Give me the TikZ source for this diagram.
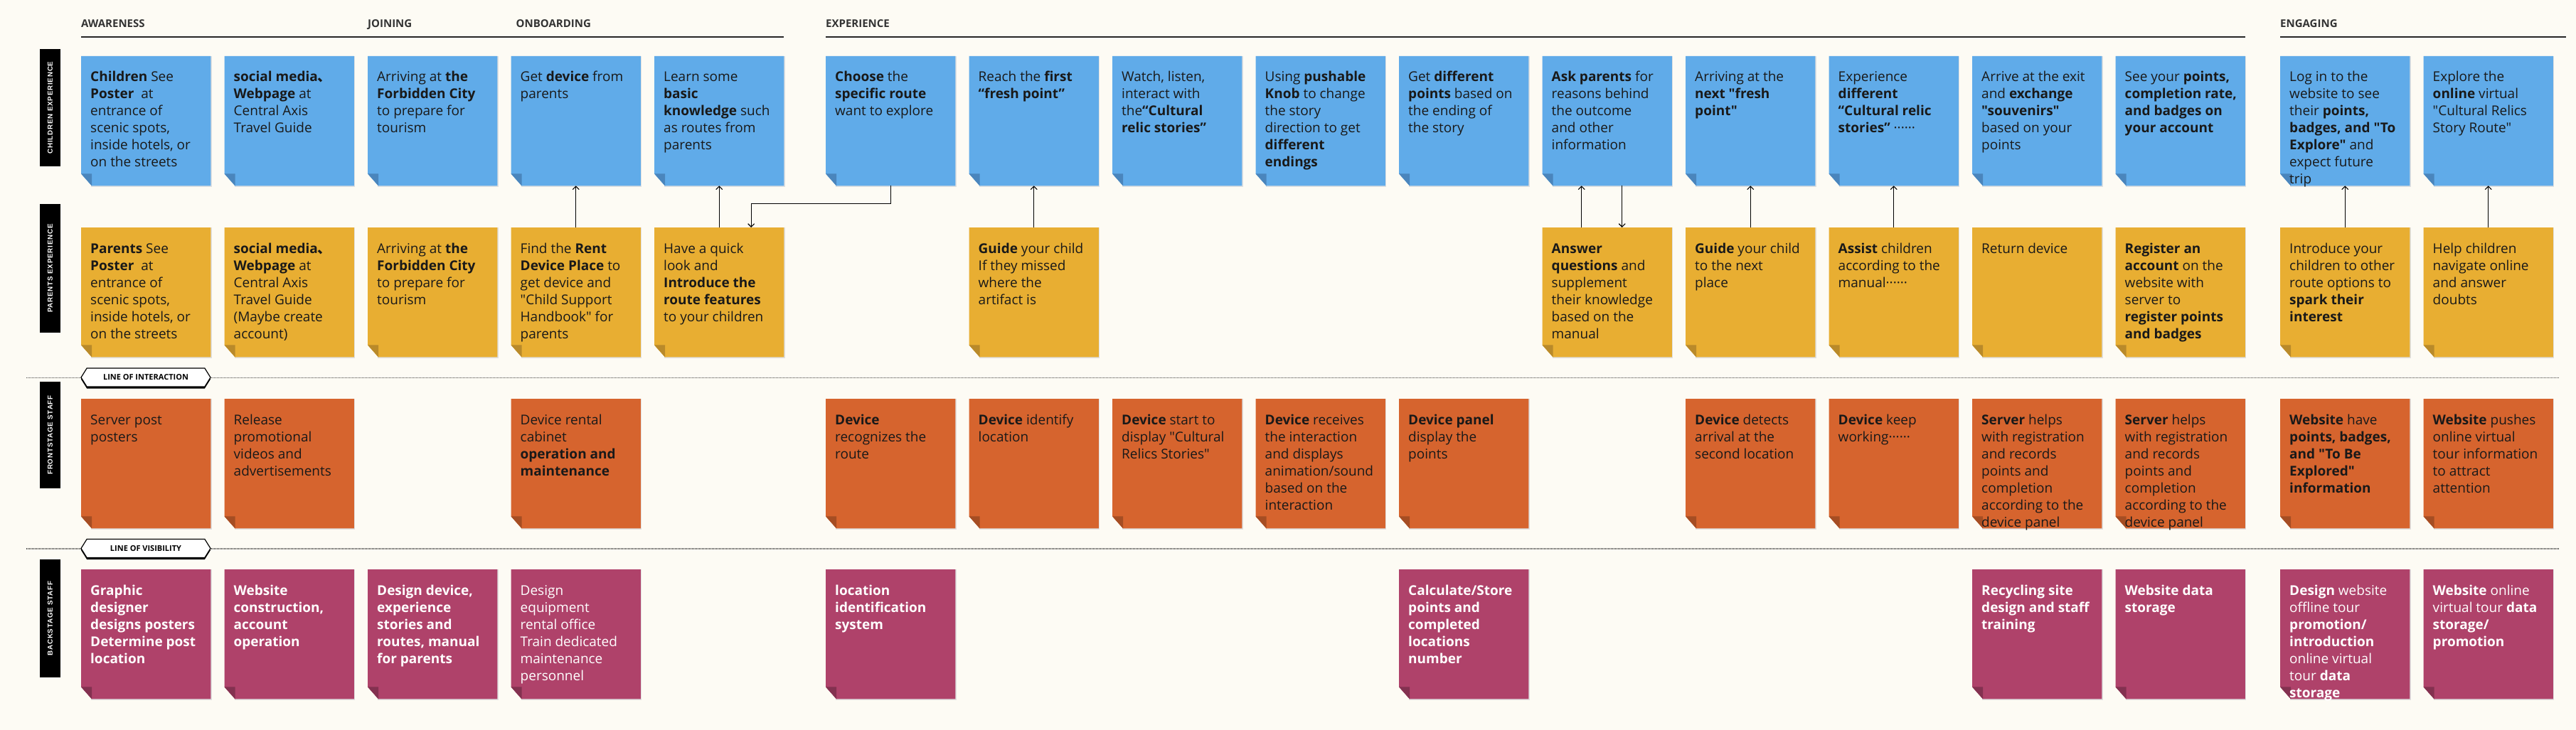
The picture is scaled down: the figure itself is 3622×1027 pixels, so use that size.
\documentclass[tikz,border=0pt]{standalone}
\usepackage{fontspec}
\setmainfont{Open Sans}[Ligatures=TeXOff]
\newfontfamily\cjk{Noto Sans CJK SC}
\newfontfamily\lanefont[LetterSpace=8]{Liberation Sans}
\usetikzlibrary{arrows.meta,shapes.symbols,shadows}

\definecolor{paper}{HTML}{FDFBF4}
\definecolor{kidblue}{HTML}{60ABE9}
\definecolor{kidfold}{HTML}{4A85BC}
\definecolor{parentgold}{HTML}{E8AE32}
\definecolor{parentfold}{HTML}{B98A2A}
\definecolor{frontorange}{HTML}{D6642E}
\definecolor{frontfold}{HTML}{A54D23}
\definecolor{backberry}{HTML}{AF426A}
\definecolor{backfold}{HTML}{833150}

\def\colsep{201.5}
\def\notesize{182pt}

\begin{document}
\begin{tikzpicture}[x=1pt,y=-1pt]
        \tikzstyle{note}=[rectangle,minimum width=\notesize,minimum height=\notesize,inner sep=0pt,anchor=north west]
        \tikzstyle{note text}=[anchor=base west,inner sep=0pt,font=\fontsize{19}{24}\selectfont,text=black!90]
        \tikzstyle{note shadow}=[fill=black!12]
        \tikzstyle{phase}=[anchor=base west,inner sep=0pt,font=\fontsize{15}{18}\selectfont\bfseries,text=black!80]
        \tikzstyle{phase rule}=[line width=2.2pt,black!85]
        \tikzstyle{lane}=[fill=black,text=white,rotate=90,minimum height=29pt,inner sep=0pt,font=\lanefont\fontsize{9.8}{10}\selectfont\bfseries]
        \tikzstyle{divider}=[line width=1.6pt,black!75,dash pattern=on 1pt off 1pt]
        \tikzstyle{gate}=[shape=signal,signal to=east and west,signal pointer angle=116,fill=white,draw=black,line width=1.2pt,minimum width=182pt,minimum height=26pt,inner sep=2pt,font=\fontsize{11}{12}\selectfont\bfseries,drop shadow={shadow xshift=0pt,shadow yshift=-2.5pt,fill=black,opacity=1}]
        \tikzstyle{flow}=[-{Straight Barb[length=4.5pt,width=9pt]},line width=1.1pt,black]

        % Paper and page size
        \fill[paper] (0,0) rectangle (3622,1027);
        \useasboundingbox (0,0) rectangle (3622,1027);

        % Column and row anchors
        \foreach \i in {1,...,5}
        \coordinate (col-\i) at ({114+(\i-1)*\colsep},0);
        \foreach \i in {6,...,15}
        \coordinate (col-\i) at ({1161+(\i-6)*\colsep},0);
        \foreach \i in {16,17}
        \coordinate (col-\i) at ({3206+(\i-16)*\colsep},0);
        \coordinate (row-1) at (0,79);
        \coordinate (row-2) at (0,320);
        \coordinate (row-3) at (0,561);
        \coordinate (row-4) at (0,801);
        \coordinate (hdr) at (0,39);
        \coordinate (rule) at (0,52);

        % Lines of interaction and visibility
        \coordinate (ia-l) at (37,531.5);
        \coordinate (ia-r) at (3598,531.5);
        \coordinate (vi-l) at (37,772);
        \coordinate (vi-r) at (3598,772);
        \draw[divider] (ia-l) -- (ia-r);
        \draw[divider] (vi-l) -- (vi-r);
        \node[gate] (ia) at (205,531) {LINE OF INTERACTION};
        \node[gate] (vi) at (205,771.5) {LINE OF VISIBILITY};

        % Swimlane labels
        \node[lane,minimum width=165pt] (lane-kid) at (70.5,151.5) {CHILDREN EXPERIENCE};
        \node[lane,minimum width=181pt] (lane-par) at (70.5,377.5) {PARENTS EXPERIENCE};
        \node[lane,minimum width=150pt] (lane-front) at (70.5,612) {FRONTSTAGE STAFF};
        \node[lane,minimum width=166pt] (lane-back) at (70.5,870) {BACKSTAGE STAFF};

        % Children experience
        \foreach \cn/\txt in {%
            1/{\textbf{Children} See\\\textbf{Poster}\ \ at\\entrance of\\scenic spots,\\inside hotels, or\\on the streets},%
            2/{\textbf{social media{\cjk 、}}\\\textbf{Webpage} at\\Central Axis\\Travel Guide},%
            3/{Arriving at \textbf{the}\\\textbf{Forbidden City}\\to prepare for\\tourism},%
            4/{Get \textbf{device} from\\parents},%
            5/{Learn some\\\textbf{basic}\\\textbf{knowledge} such\\as routes from\\parents},%
            6/{\textbf{Choose} the\\\textbf{specific route}\\want to explore},%
            7/{Reach the \textbf{first}\\\textbf{“fresh point”}},%
            8/{Watch, listen,\\interact with\\the\textbf{“Cultural}\\\textbf{relic stories”}},%
            9/{Using \textbf{pushable}\\\textbf{Knob} to change\\the story\\direction to get\\\textbf{different}\\\textbf{endings}},%
            10/{Get \textbf{different}\\\textbf{points} based on\\the ending of\\the story},%
            11/{\textbf{Ask parents} for\\reasons behind\\the outcome\\and other\\information},%
            12/{Arriving at the\\\textbf{next "fresh}\\\textbf{point"}},%
            13/{Experience\\\textbf{different}\\\textbf{“Cultural relic}\\\textbf{stories”} ······},%
            14/{Arrive at the exit\\and \textbf{exchange}\\\textbf{"souvenirs"}\\based on your\\points},%
            15/{See your \textbf{points,}\\\textbf{completion rate,}\\\textbf{and badges on}\\\textbf{your account}},%
            16/{Log in to the\\website to see\\their \textbf{points,}\\\textbf{badges, and "To}\\\textbf{Explore"} and\\expect future\\trip},%
            17/{Explore the\\\textbf{online} virtual\\"Cultural Relics\\Story Route"}}
        {
            \node[note] (C-\cn) at (col-\cn |- row-1) {};
            \fill[note shadow] ([xshift=14pt]C-\cn.north west) rectangle ([xshift=1.5pt,yshift=-2pt]C-\cn.south east);
            \fill[kidblue] (C-\cn.north west) -- (C-\cn.north east) -- (C-\cn.south east) -- ([xshift=15pt]C-\cn.south west) -- ([yshift=17pt]C-\cn.south west) -- cycle;
            \fill[kidfold] ([yshift=17pt]C-\cn.south west) -- ([xshift=15pt,yshift=17pt]C-\cn.south west) -- ([xshift=15pt]C-\cn.south west) -- cycle;
            \node[note text] at ([shift={(13,36)}]C-\cn.north west) {\parbox[t]{200pt}{\raggedright\txt}};
        }

        % Parents experience
        \foreach \cn/\txt in {%
            1/{\textbf{Parents} See\\\textbf{Poster}\ \ at\\entrance of\\scenic spots,\\inside hotels, or\\on the streets},%
            2/{\textbf{social media{\cjk 、}}\\\textbf{Webpage} at\\Central Axis\\Travel Guide\\(Maybe create\\account)},%
            3/{Arriving at \textbf{the}\\\textbf{Forbidden City}\\to prepare for\\tourism},%
            4/{Find the \textbf{Rent}\\\textbf{Device Place} to\\get device and\\"Child Support\\Handbook" for\\parents},%
            5/{Have a quick\\look and\\\textbf{Introduce the}\\\textbf{route features}\\to your children},%
            7/{\textbf{Guide} your child\\If they missed\\where the\\artifact is},%
            11/{\textbf{Answer}\\\textbf{questions} and\\supplement\\their knowledge\\based on the\\manual},%
            12/{\textbf{Guide} your child\\to the next\\place},%
            13/{\textbf{Assist} children\\according to the\\manual······},%
            14/{Return device},%
            15/{\textbf{Register an}\\\textbf{account} on the\\website with\\server to\\\textbf{register points}\\\textbf{and badges}},%
            16/{Introduce your\\children to other\\route options to\\\textbf{spark their}\\\textbf{interest}},%
            17/{Help children\\navigate online\\and answer\\doubts}}
        {
            \node[note] (P-\cn) at (col-\cn |- row-2) {};
            \fill[note shadow] ([xshift=14pt]P-\cn.north west) rectangle ([xshift=1.5pt,yshift=-2pt]P-\cn.south east);
            \fill[parentgold] (P-\cn.north west) -- (P-\cn.north east) -- (P-\cn.south east) -- ([xshift=15pt]P-\cn.south west) -- ([yshift=17pt]P-\cn.south west) -- cycle;
            \fill[parentfold] ([yshift=17pt]P-\cn.south west) -- ([xshift=15pt,yshift=17pt]P-\cn.south west) -- ([xshift=15pt]P-\cn.south west) -- cycle;
            \node[note text] at ([shift={(13,36)}]P-\cn.north west) {\parbox[t]{200pt}{\raggedright\txt}};
        }

        % Frontstage staff
        \foreach \cn/\txt in {%
            1/{Server post\\posters},%
            2/{Release\\promotional\\videos and\\advertisements},%
            4/{Device rental\\cabinet\\\textbf{operation and}\\\textbf{maintenance}},%
            6/{\textbf{Device}\\recognizes the\\route},%
            7/{\textbf{Device} identify\\location},%
            8/{\textbf{Device} start to\\display "Cultural\\Relics Stories"},%
            9/{\textbf{Device} receives\\the interaction\\and displays\\animation/sound\\based on the\\interaction},%
            10/{\textbf{Device panel}\\display the\\points},%
            12/{\textbf{Device} detects\\arrival at the\\second location},%
            13/{\textbf{Device} keep\\working······},%
            14/{\textbf{Server} helps\\with registration\\and records\\points and\\completion\\according to the\\device panel},%
            15/{\textbf{Server} helps\\with registration\\and records\\points and\\completion\\according to the\\device panel},%
            16/{\textbf{Website} have\\\textbf{points, badges,}\\\textbf{and "To Be}\\\textbf{Explored"}\\\textbf{information}},%
            17/{\textbf{Website} pushes\\online virtual\\tour information\\to attract\\attention}}
        {
            \node[note] (F-\cn) at (col-\cn |- row-3) {};
            \fill[note shadow] ([xshift=14pt]F-\cn.north west) rectangle ([xshift=1.5pt,yshift=-2pt]F-\cn.south east);
            \fill[frontorange] (F-\cn.north west) -- (F-\cn.north east) -- (F-\cn.south east) -- ([xshift=15pt]F-\cn.south west) -- ([yshift=17pt]F-\cn.south west) -- cycle;
            \fill[frontfold] ([yshift=17pt]F-\cn.south west) -- ([xshift=15pt,yshift=17pt]F-\cn.south west) -- ([xshift=15pt]F-\cn.south west) -- cycle;
            \node[note text] at ([shift={(13,36)}]F-\cn.north west) {\parbox[t]{200pt}{\raggedright\txt}};
        }

        % Backstage staff
        \foreach \cn/\txt in {%
            1/{\bfseries Graphic\\designer\\designs posters\\Determine post\\location},%
            2/{\bfseries Website\\construction,\\account\\operation},%
            3/{\bfseries Design device,\\experience\\stories and\\routes, manual\\for parents},%
            4/{Design\\equipment\\rental office\\Train dedicated\\maintenance\\personnel},%
            6/{\bfseries location\\identification\\system},%
            10/{\bfseries Calculate/Store\\points and\\completed\\locations\\number},%
            14/{\bfseries Recycling site\\design and staff\\training},%
            15/{\bfseries Website data\\storage},%
            16/{\textbf{Design} website\\offline tour\\\textbf{promotion/}\\\textbf{introduction}\\online virtual\\tour \textbf{data}\\\textbf{storage}},%
            17/{\textbf{Website} online\\virtual tour \textbf{data}\\\textbf{storage/}\\\textbf{promotion}}}
        {
            \node[note] (B-\cn) at (col-\cn |- row-4) {};
            \fill[note shadow] ([xshift=14pt]B-\cn.north west) rectangle ([xshift=1.5pt,yshift=-2pt]B-\cn.south east);
            \fill[backberry] (B-\cn.north west) -- (B-\cn.north east) -- (B-\cn.south east) -- ([xshift=15pt]B-\cn.south west) -- ([yshift=17pt]B-\cn.south west) -- cycle;
            \fill[backfold] ([yshift=17pt]B-\cn.south west) -- ([xshift=15pt,yshift=17pt]B-\cn.south west) -- ([xshift=15pt]B-\cn.south west) -- cycle;
            \node[note text,text=white] at ([shift={(13,36)}]B-\cn.north west) {\parbox[t]{200pt}{\raggedright\txt}};
        }

        % Phases along the top
        \node[phase] (ph-aw) at (col-1 |- hdr) {AWARENESS};
        \node[phase] (ph-jo) at (col-3 |- hdr) {JOINING};
        \node[phase,xshift=7pt] (ph-on) at (col-4 |- hdr) {ONBOARDING};
        \node[phase] (ph-ex) at (col-6 |- hdr) {EXPERIENCE};
        \node[phase] (ph-en) at (col-16 |- hdr) {ENGAGING};
        \draw[phase rule] (C-1.west |- rule) -- (C-5.east |- rule);
        \draw[phase rule] (C-6.west |- rule) -- (C-15.east |- rule);
        \draw[phase rule] (C-16.west |- rule) -- (C-17.east |- rule) -- ++(18,0);

        % Links between parents and children
        \foreach \cn in {4,5,7,12,13,16,17}
        \draw[flow] (P-\cn.north) -- (C-\cn.south);
        \draw[flow] ([xshift=-36pt]P-11.north) -- ([xshift=-36pt]C-11.south);
        \draw[flow] ([xshift=21pt]C-11.south) -- ([xshift=21pt]P-11.north);
        \draw[flow] (C-6.south) -- ++(0,25) -| ([xshift=45pt]P-5.north);
\end{tikzpicture}
\end{document}
